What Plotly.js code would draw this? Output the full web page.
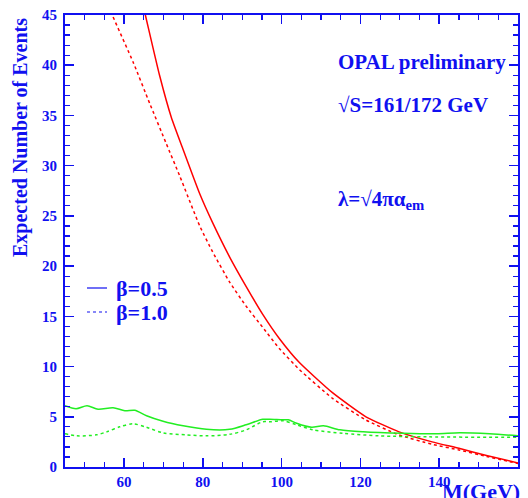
<!DOCTYPE html>
<html><head><meta charset="utf-8">
<script src="https://cdn.plot.ly/plotly-3.0.1.min.js"></script>
<style>html,body{margin:0;padding:0;background:#fff}#c{width:528px;height:498px}</style>
</head><body><div id="c"></div>
<script>
// Red curves (signal expectation, solid beta=0.5, dashed beta=1.0)
var redSolidM = [63, 65.4, 69, 72, 74.8, 79.2, 82.5, 86.8, 91, 95.2, 99.4, 104.5, 112.9, 121.4, 129.8, 138.2, 145, 152, 160];
var redSolidN = [49, 45, 39, 34.8, 31.8, 27.2, 24.3, 20.9, 17.96, 15.2, 12.8, 10.4, 7.4, 5.0, 3.5, 2.5, 1.86, 1.15, 0.4];
var redDashM = [55, 57, 62.3, 66.5, 70.7, 74.1, 79.2, 82.5, 86.8, 91, 95.2, 99.4, 104.5, 112.9, 121.4, 129.8, 138.2, 145, 152, 160];
var redDashN = [47, 45, 40.3, 36.2, 32.2, 29.0, 24.0, 21.4, 18.4, 16.0, 13.9, 11.8, 9.7, 6.84, 4.68, 3.19, 2.26, 1.7, 1.05, 0.35];
// Green curves (background expectation)
var greenSolidM = [45, 47.8, 50.6, 53.4, 57.2, 60.2, 62.7, 65.7, 69.9, 75, 80.9, 86.8, 91, 95.2, 97, 100.4, 101.7, 103.8, 107.6, 110.6, 114.8, 120.7, 130.8, 139.3, 145.2, 152.8, 160];
var greenSolidN = [6.1, 5.8, 6.1, 5.75, 5.9, 5.6, 5.65, 5.1, 4.55, 4.1, 3.75, 3.75, 4.2, 4.75, 4.75, 4.7, 4.7, 4.35, 3.95, 4.1, 3.7, 3.5, 3.35, 3.3, 3.4, 3.3, 3.1];
var greenDashM = [45, 48, 53, 55.6, 58.9, 62.3, 65.7, 69.9, 75.8, 80.9, 86.8, 91, 95.2, 97, 100.4, 103.8, 108, 115.6, 124.9, 137.6, 160];
var greenDashN = [3.3, 3.1, 3.2, 3.5, 4.0, 4.3, 3.95, 3.4, 3.2, 3.1, 3.25, 3.7, 4.5, 4.5, 4.6, 4.2, 3.7, 3.35, 3.1, 3.0, 2.95];
// Axis ticks
var xTicks = [60, 80, 100, 120, 140, 160];
var yTicks = [0, 5, 10, 15, 20, 25, 30, 35, 40, 45];

var BLUE = '#1010f0';
var RED = '#ff0000';
var GREEN = '#22ee22';
var FONT = 'Liberation Serif, Times New Roman, serif';

var traces = [
  {x: redSolidM, y: redSolidN, mode: 'lines', line: {color: RED, width: 1.5, shape: 'spline', smoothing: 0.5}},
  {x: redDashM, y: redDashN, mode: 'lines', line: {color: RED, width: 1.5, dash: 'dot', shape: 'spline', smoothing: 0.5}},
  {x: greenSolidM, y: greenSolidN, mode: 'lines', line: {color: GREEN, width: 1.5, shape: 'spline', smoothing: 0.8}},
  {x: greenDashM, y: greenDashN, mode: 'lines', line: {color: GREEN, width: 1.5, dash: 'dot', shape: 'spline', smoothing: 0.8}}
];

function px(x) { return (x - 65) / 453; }
function py(y) { return (467 - y) / 452; }

var layout = {
  width: 528, height: 498,
  margin: {l: 65, r: 10, t: 15, b: 31},
  showlegend: false,
  paper_bgcolor: '#fff', plot_bgcolor: '#fff',
  font: {family: FONT, color: BLUE},
  xaxis: {
    range: [45, 160], tickvals: xTicks, ticktext: xTicks.map(String),
    ticks: 'inside', ticklen: 9, tickwidth: 1.5, tickcolor: BLUE,
    minor: {dtick: 5, tick0: 0, ticks: 'inside', ticklen: 5, tickwidth: 1.2, tickcolor: BLUE},
    showline: true, linecolor: BLUE, linewidth: 2, mirror: 'ticks',
    showgrid: false, zeroline: false,
    tickfont: {family: FONT, size: 15, color: BLUE, weight: 'bold'}
  },
  yaxis: {
    range: [0, 45], tickvals: yTicks, ticktext: yTicks.map(String),
    ticks: 'inside', ticklen: 9, tickwidth: 1.5, tickcolor: BLUE,
    minor: {dtick: 1, tick0: 0, ticks: 'inside', ticklen: 5, tickwidth: 1.2, tickcolor: BLUE},
    showline: true, linecolor: BLUE, linewidth: 2, mirror: 'ticks',
    showgrid: false, zeroline: false, ticklabelstandoff: 3,
    tickfont: {family: FONT, size: 15, color: BLUE, weight: 'bold'}
  },
  shapes: [
    {type: 'line', xref: 'paper', yref: 'paper', x0: px(87), x1: px(107), y0: py(288), y1: py(288), line: {color: BLUE, width: 1.2}},
    {type: 'line', xref: 'paper', yref: 'paper', x0: px(87), x1: px(107), y0: py(312), y1: py(312), line: {color: BLUE, width: 1.2, dash: 'dot'}}
  ],
  annotations: [
    {xref: 'paper', yref: 'paper', x: px(336), y: py(62), xanchor: 'left', yanchor: 'middle', showarrow: false,
     text: '<b>OPAL preliminary</b>', font: {family: FONT, size: 21, color: BLUE}},
    {xref: 'paper', yref: 'paper', x: px(336), y: py(105), xanchor: 'left', yanchor: 'middle', showarrow: false,
     text: '<b>√S=161/172 GeV</b>', font: {family: FONT, size: 21, color: BLUE}},
    {xref: 'paper', yref: 'paper', x: px(336), y: py(200), xanchor: 'left', yanchor: 'middle', showarrow: false,
     text: '<b>λ=√4πα<sub>em</sub></b>', font: {family: FONT, size: 21, color: BLUE}},
    {xref: 'paper', yref: 'paper', x: px(114), y: py(288), xanchor: 'left', yanchor: 'middle', showarrow: false,
     text: '<b>β=0.5</b>', font: {family: FONT, size: 22, color: BLUE}},
    {xref: 'paper', yref: 'paper', x: px(114), y: py(312), xanchor: 'left', yanchor: 'middle', showarrow: false,
     text: '<b>β=1.0</b>', font: {family: FONT, size: 22, color: BLUE}},
    {xref: 'paper', yref: 'paper', x: px(20), y: py(138), xanchor: 'center', yanchor: 'middle', showarrow: false, textangle: -90,
     text: '<b>Expected Number of Events</b>', font: {family: FONT, size: 20, color: BLUE}},
    {xref: 'paper', yref: 'paper', x: px(522), y: py(477), xanchor: 'right', yanchor: 'top', showarrow: false,
     text: '<b>M(GeV)</b>', font: {family: FONT, size: 22, color: BLUE}}
  ]
};

Plotly.newPlot('c', traces, layout, {displayModeBar: false, staticPlot: true});
</script>
</body></html>
